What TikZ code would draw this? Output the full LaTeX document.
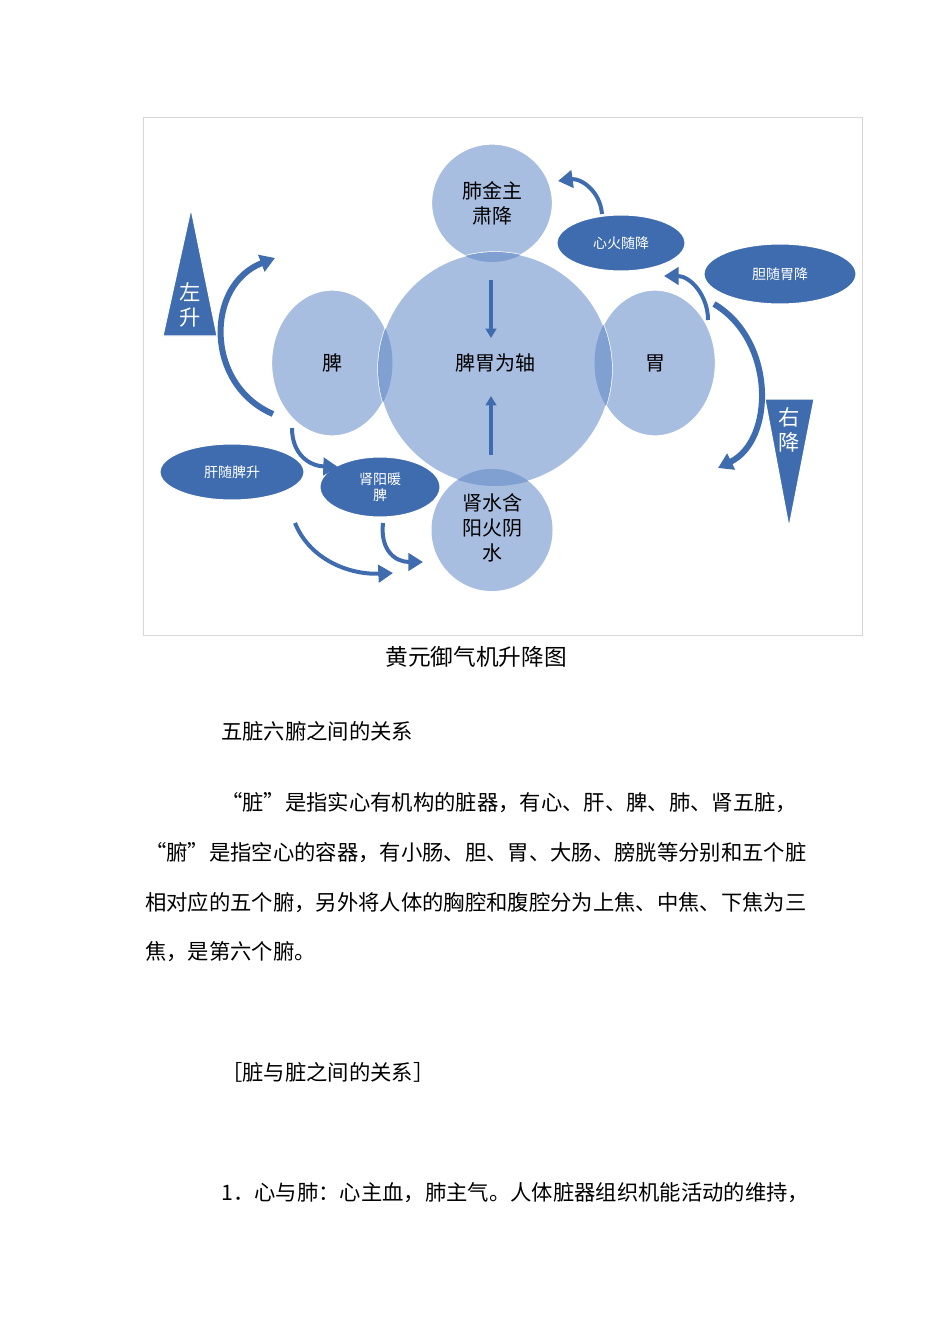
\documentclass[tikz,border=0pt]{standalone}
\usepackage{fontspec}
\newfontfamily\cjk{Noto Sans CJK SC}
\usetikzlibrary{shapes.geometric,arrows.meta}
\definecolor{lightb}{RGB}{168,190,224}
\definecolor{midb}{RGB}{128,160,210}
\definecolor{darkb}{RGB}{62,108,174}
\definecolor{framec}{RGB}{215,215,215}
\tikzset{
 bigc/.style={ellipse,fill=lightb,draw=white,line width=1pt,inner sep=0pt,font=\cjk\fontsize{15}{19}\selectfont,align=center},
 oval/.style={ellipse,fill=darkb,draw=white,line width=0.8pt,inner sep=0pt,text=white,font=\cjk\fontsize{10.5}{12}\selectfont,align=center},
 flow/.style={draw=darkb,line width=4.5pt,-{Triangle[length=11pt,width=13pt]}},
 axis/.style={draw=darkb,line width=3pt,-{Triangle[length=7pt,width=8pt]}},
 tri/.style={fill=darkb,draw=white,line width=0.8pt},
 lbl/.style={font=\cjk\fontsize{15}{19}\selectfont,align=center},
 body/.style={anchor=west,inner sep=0pt,font=\cjk\fontsize{16}{19}\selectfont}
}
\begin{document}
\begin{tikzpicture}[x=0.75pt,y=-0.75pt]
\useasboundingbox[fill=white] (0,0) rectangle (950,1344);
\draw[framec] (143,117) rectangle (862,635);
% circles
\node[bigc,minimum width=121*0.75pt,minimum height=146*0.75pt] (spleen) at (332,363) {};
\node[bigc,minimum width=121*0.75pt,minimum height=146*0.75pt] (stomach) at (655,363) {};
\node[bigc,minimum width=121*0.75pt,minimum height=118*0.75pt] (lung) at (492,203) {肺金主\\肃降};
\node[bigc,minimum width=121*0.75pt,minimum height=122*0.75pt] (kidney) at (492,530) {};
\node[bigc,minimum width=234*0.75pt,minimum height=234*0.75pt] (center) at (495,369) {};
\begin{scope}
\clip (495,369) ellipse [x radius=117,y radius=117];
\fill[midb] (332,363) ellipse [x radius=60.5,y radius=73];
\fill[midb] (655,363) ellipse [x radius=60.5,y radius=73];
\fill[midb] (492,203) ellipse [x radius=60.5,y radius=59];
\fill[midb] (492,530) ellipse [x radius=60.5,y radius=61];
\end{scope}
\fill[lightb] (492,530) ellipse [x radius=60.5,y radius=61];
\begin{scope}
\clip (492,530) ellipse [x radius=60.5,y radius=61];
\fill[midb] (495,369) ellipse [x radius=117,y radius=117];
\end{scope}
\node[lbl] (kidtext) at (492,528) {肾水含\\阳火阴\\水};
\node[lbl] (spleentext) at (332,363) {脾};
\node[lbl] (stomachtext) at (655,363) {胃};
\node[lbl] (centertext) at (495,363) {脾胃为轴};
% axis arrows
\coordinate (a1) at (491,280); \coordinate (a2) at (491,338);
\coordinate (a3) at (491,455); \coordinate (a4) at (491,396);
\draw[axis] (a1) -- (a2);
\draw[axis] (a3) -- (a4);
% ovals
\node[oval,minimum width=128*0.75pt,minimum height=56*0.75pt] (xinhuo) at (621,243) {心火随降};
\node[oval,minimum width=152*0.75pt,minimum height=60*0.75pt] (dan) at (780,274) {胆随胃降};
\node[oval,minimum width=144*0.75pt,minimum height=56*0.75pt] (gan) at (232,472) {肝随脾升};
\node[oval,minimum width=120*0.75pt,minimum height=60*0.75pt] (shenyang) at (380,487) {肾阳暖\\脾};
% triangles
\draw[tri] (191,209) -- (217,336) -- (163,336) -- cycle;
\node[text=white,font=\cjk\fontsize{16}{19}\selectfont,align=center] (zuo) at (190,305) {左\\升};
\draw[tri] (765,399) -- (814,399) -- (789,527) -- cycle;
\node[text=white,font=\cjk\fontsize{16}{19}\selectfont,align=center] (you) at (789,430) {右\\降};
% flow arrows
\coordinate (l1) at (273,414); \coordinate (l2) at (275,258);
\draw[flow] (l1) .. controls (205,385) and (205,285) .. (l2);
\coordinate (r1) at (714,304); \coordinate (r2) at (718,468);
\draw[flow] (r1) .. controls (775,340) and (775,440) .. (r2);
\coordinate (x1) at (602,214); \coordinate (x2) at (558,181);
\draw[flow,line width=3pt] (x1) .. controls (600,190) and (580,178) .. (x2);
\coordinate (s1) at (708,320); \coordinate (s2) at (664,276);
\draw[flow,line width=3pt] (s1) .. controls (708,295) and (690,276) .. (s2);
\coordinate (g1) at (292,428); \coordinate (g2) at (338,467);
\draw[flow,line width=3pt] (g1) .. controls (292,455) and (310,466) .. (g2);
\coordinate (b1) at (295,523); \coordinate (b2) at (393,573);
\draw[flow,line width=3pt] (b1) .. controls (310,560) and (350,575) .. (b2);
\coordinate (c1) at (383,523); \coordinate (c2) at (423,562);
\draw[flow,line width=3pt] (c1) .. controls (380,550) and (395,562) .. (c2);
% text
\node[font=\cjk\fontsize{17}{20}\selectfont] (cap) at (476,657) {黄元御气机升降图};
\node[body] (t1) at (221,731) {五脏六腑之间的关系};
\node[body] (t2) at (221,803) {“脏”是指实心有机构的脏器，有心、肝、脾、肺、肾五脏，};
\node[body] (t3) at (145,853) {“腑”是指空心的容器，有小肠、胆、胃、大肠、膀胱等分别和五个脏};
\node[body] (t4) at (145,903) {相对应的五个腑，另外将人体的胸腔和腹腔分为上焦、中焦、下焦为三};
\node[body] (t5) at (145,952) {焦，是第六个腑。};
\node[body] (t6) at (221,1072) {［脏与脏之间的关系］};
\node[body] (t7) at (221,1193) {1．心与肺：心主血，肺主气。人体脏器组织机能活动的维持，};
\end{tikzpicture}
\end{document}
